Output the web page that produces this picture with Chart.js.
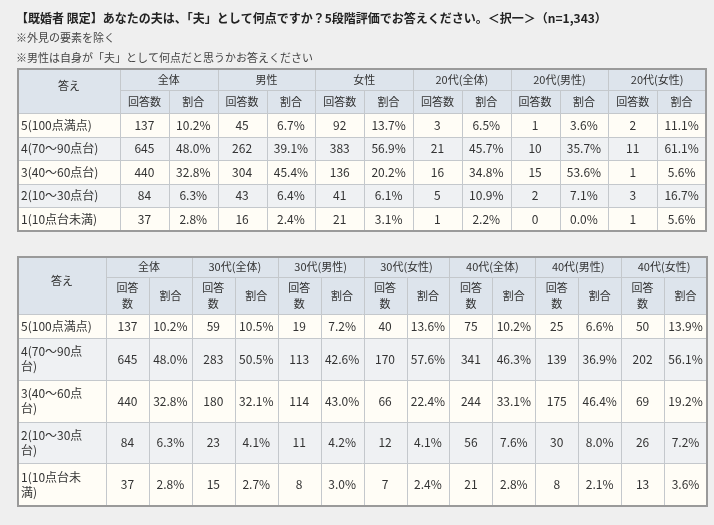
<!DOCTYPE html>
<html><head><meta charset="utf-8">
<script src="https://cdn.jsdelivr.net/npm/chart.js@4"></script>
<style>html,body{margin:0;padding:0;background:#efefef;}#c{display:block;}</style>
</head><body><canvas id="c" width="714" height="525"></canvas>
<script>
const title = "【既婚者 限定】あなたの夫は、「夫」として何点ですか？5段階評価でお答えください。＜択一＞（n=1,343）";
const notes = ["※外見の要素を除く", "※男性は自身が「夫」として何点だと思うかお答えください"];
const categories = ["5(100点満点)", "4(70～90点台)", "3(40～60点台)", "2(10～30点台)", "1(10点台未満)"];
const categoriesWrapped = [["5(100点満点)"], ["4(70～90点", "台)"], ["3(40～60点", "台)"], ["2(10～30点", "台)"], ["1(10点台未", "満)"]];
const groups1 = ["全体", "男性", "女性", "20代(全体)", "20代(男性)", "20代(女性)"];
const counts1 = [
  [137,645,440,84,37],[45,262,304,43,16],[92,383,136,41,21],
  [3,21,16,5,1],[1,10,15,2,0],[2,11,1,3,1]];
const pct1 = [
  ["10.2%","48.0%","32.8%","6.3%","2.8%"],["6.7%","39.1%","45.4%","6.4%","2.4%"],
  ["13.7%","56.9%","20.2%","6.1%","3.1%"],["6.5%","45.7%","34.8%","10.9%","2.2%"],
  ["3.6%","35.7%","53.6%","7.1%","0.0%"],["11.1%","61.1%","5.6%","16.7%","5.6%"]];
const groups2 = ["全体", "30代(全体)", "30代(男性)", "30代(女性)", "40代(全体)", "40代(男性)", "40代(女性)"];
const counts2 = [
  [137,645,440,84,37],[59,283,180,23,15],[19,113,114,11,8],[40,170,66,12,7],
  [75,341,244,56,21],[25,139,175,30,8],[50,202,69,26,13]];
const pct2 = [
  ["10.2%","48.0%","32.8%","6.3%","2.8%"],["10.5%","50.5%","32.1%","4.1%","2.7%"],
  ["7.2%","42.6%","43.0%","4.2%","3.0%"],["13.6%","57.6%","22.4%","4.1%","2.4%"],
  ["10.2%","46.3%","33.1%","7.6%","2.8%"],["6.6%","36.9%","46.4%","8.0%","2.1%"],
  ["13.9%","56.1%","19.2%","7.2%","3.6%"]];
const answerLabel = "答え", countLabel = "回答数", pctLabel = "割合";

const FONT = '"Noto Sans CJK JP", "Noto Sans", sans-serif';
const tables = [
  {groups: groups1, counts: counts1, pct: pct1, left: 18, right: 706, firstW: 102,
   rows: [69, 90, 113, 137, 160, 184, 207, 231], wrapHead: false, cats: categories.map(c => [c])},
  {groups: groups2, counts: counts2, pct: pct2, left: 18, right: 707, firstW: 88,
   rows: [257, 277, 314, 338, 380, 422, 463, 506], wrapHead: true, cats: categoriesWrapped}
];

function text(ctx, s, x, y, align) { ctx.textAlign = align; ctx.fillText(s, x, y); }

const tablePlugin = {
  id: 'tables',
  afterDraw(chart) {
    const ctx = chart.ctx, X = chart.scales.x, Y = chart.scales.y;
    const px = v => X.getPixelForValue(v), py = v => Y.getPixelForValue(v);
    ctx.save();
    ctx.fillStyle = '#222'; ctx.textBaseline = 'middle';
    ctx.font = 'bold 12px ' + FONT; text(ctx, title, px(16), py(18), 'left');
    ctx.font = '11px ' + FONT; ctx.fillStyle = '#444';
    text(ctx, notes[0], px(16), py(38), 'left');
    text(ctx, notes[1], px(16), py(58), 'left');
    for (const t of tables) {
      const n = t.groups.length * 2;
      const cw = (t.right - t.left - t.firstW) / n;
      const colX = i => t.left + t.firstW + i * cw;
      const R = t.rows;
      ctx.fillStyle = '#dde4ec';
      ctx.fillRect(px(t.left), py(R[0]), px(t.right) - px(t.left), py(R[2]) - py(R[0]));
      for (let r = 0; r < categories.length; r++) {
        ctx.fillStyle = r % 2 === 0 ? '#fffdf6' : '#eff1f3';
        ctx.fillRect(px(t.left), py(R[r + 2]), px(t.right) - px(t.left), py(R[r + 3]) - py(R[r + 2]));
      }
      ctx.strokeStyle = '#c4c8cc'; ctx.lineWidth = 1;
      ctx.beginPath();
      for (let k = 2; k < R.length - 1; k++) { ctx.moveTo(px(t.left), py(R[k]) + .5); ctx.lineTo(px(t.right), py(R[k]) + .5); }
      ctx.moveTo(px(colX(0)), py(R[1]) + .5); ctx.lineTo(px(t.right), py(R[1]) + .5);
      for (let i = 0; i < n; i++) {
        const x = Math.round(px(colX(i))) + .5;
        ctx.moveTo(x, py(i % 2 === 0 ? R[0] : R[1])); ctx.lineTo(x, py(R[R.length - 1]));
      }
      ctx.stroke();
      ctx.strokeStyle = '#9a9a9a'; ctx.lineWidth = 2;
      ctx.strokeRect(px(t.left), py(R[0]), px(t.right) - px(t.left), py(R[R.length - 1]) - py(R[0]));
      ctx.fillStyle = '#333'; ctx.font = '11px ' + FONT;
      text(ctx, answerLabel, px(t.left + t.firstW / 2), py((R[0] + R[2]) / 2) - 5, 'center');
      t.groups.forEach((g, gi) => {
        text(ctx, g, px(colX(gi * 2 + 1)), py((R[0] + R[1]) / 2), 'center');
        const c1 = colX(gi * 2) + cw / 2, c2 = colX(gi * 2 + 1) + cw / 2, ym = (R[1] + R[2]) / 2;
        if (t.wrapHead) {
          text(ctx, "回答", px(c1), py(ym - 8), 'center');
          text(ctx, "数", px(c1), py(ym + 8), 'center');
        } else text(ctx, countLabel, px(c1), py(ym), 'center');
        text(ctx, pctLabel, px(c2), py(ym), 'center');
      });
      ctx.font = '12px ' + FONT;
      t.cats.forEach((lines, r) => {
        const ym = (R[r + 2] + R[r + 3]) / 2;
        lines.forEach((ln, li) => text(ctx, ln, px(t.left + 3), py(ym + (li - (lines.length - 1) / 2) * 15), 'left'));
        t.groups.forEach((g, gi) => {
          text(ctx, String(t.counts[gi][r]), px(colX(gi * 2) + cw / 2), py(ym), 'center');
          text(ctx, t.pct[gi][r], px(colX(gi * 2 + 1) + cw / 2), py(ym), 'center');
        });
      });
    }
    ctx.restore();
  }
};

new Chart(document.getElementById('c'), {
  type: 'scatter',
  data: { datasets: [{ data: [] }] },
  options: {
    responsive: false, animation: false,
    layout: { padding: 0 },
    plugins: { legend: { display: false }, tooltip: { enabled: false } },
    scales: {
      x: { type: 'linear', min: 0, max: 714, display: false },
      y: { type: 'linear', min: 0, max: 525, reverse: true, display: false }
    }
  },
  plugins: [tablePlugin]
});
</script></body></html>
